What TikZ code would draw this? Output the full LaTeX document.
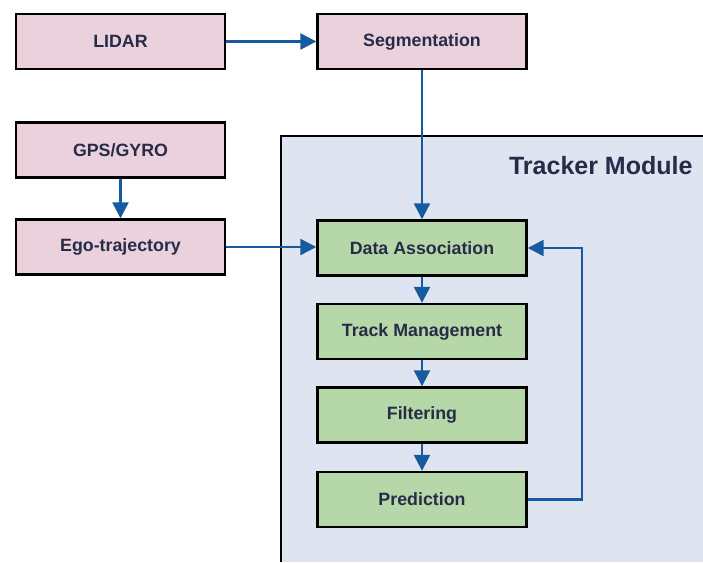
\documentclass[tikz,border=0pt]{standalone}
\usepackage{fontspec}
\setmainfont{Liberation Sans}
\usetikzlibrary{arrows.meta}
\definecolor{inpink}{RGB}{234,209,220}
\definecolor{stepgreen}{RGB}{182,215,168}
\definecolor{modbg}{RGB}{223,229,240}
\definecolor{flowblue}{RGB}{22,90,160}
\definecolor{labeltext}{RGB}{38,44,72}
\tikzset{
  blockbox/.style={draw=black, line width=2.4pt, minimum width=209pt, minimum height=55pt,
    inner sep=0pt, font=\fontsize{17.8}{21}\selectfont\bfseries, text=labeltext},
  inputbox/.style={blockbox, fill=inpink},
  stagebox/.style={blockbox, fill=stepgreen},
  flow/.style={draw=flowblue, line width=2.4pt,
    -{Triangle[length=16pt,width=16pt]}},
}
\begin{document}
\begin{tikzpicture}[x=1pt,y=-1pt]
  \useasboundingbox (0,0) rectangle (703,562);
  \fill[white] (0,0) rectangle (703,562);
  % tracker module container (runs off the right and bottom edges)
  \fill[modbg] (281,136) rectangle (703,562);
  \draw[black, line width=2.2pt] (281,562) -- (281,136) -- (703,136);
  \node[anchor=east, font=\fontsize{25}{29}\selectfont\bfseries, text=labeltext]
    (modtitle) at (696,166) {Tracker Module};

  % input blocks
  \node[inputbox] (lidar) at (120.5,41.5) {LIDAR};
  \node[inputbox] (seg)   at (422,41.5)   {Segmentation};
  \node[inputbox] (gps)   at (120.5,150)  {GPS/GYRO};
  \node[inputbox] (ego)   at (120.5,247)  {Ego-trajectory};

  % tracker stages
  \node[stagebox] (assoc) at (422,248) {Data Association};
  \node[stagebox] (mgmt)  at (422,331.5) {Track Management};
  \node[stagebox] (filt)  at (422,415) {Filtering};
  \node[stagebox] (pred)  at (422,499.5) {Prediction};

  \coordinate (loopbot) at (582,499.5);
  \coordinate (looptop) at (582,248);

  % connectors
  \draw[flow] (lidar) -- (seg);
  \draw[flow] (seg) -- (assoc);
  \draw[flow] (gps) -- (ego);
  \draw[flow] (ego.east) -- (ego.east -| assoc.west);
  \draw[flow] (assoc) -- (mgmt);
  \draw[flow] (mgmt) -- (filt);
  \draw[flow] (filt) -- (pred);
  \draw[flow] (pred.east) -- (loopbot) -- (looptop) -- (assoc.east);
\end{tikzpicture}
\end{document}
